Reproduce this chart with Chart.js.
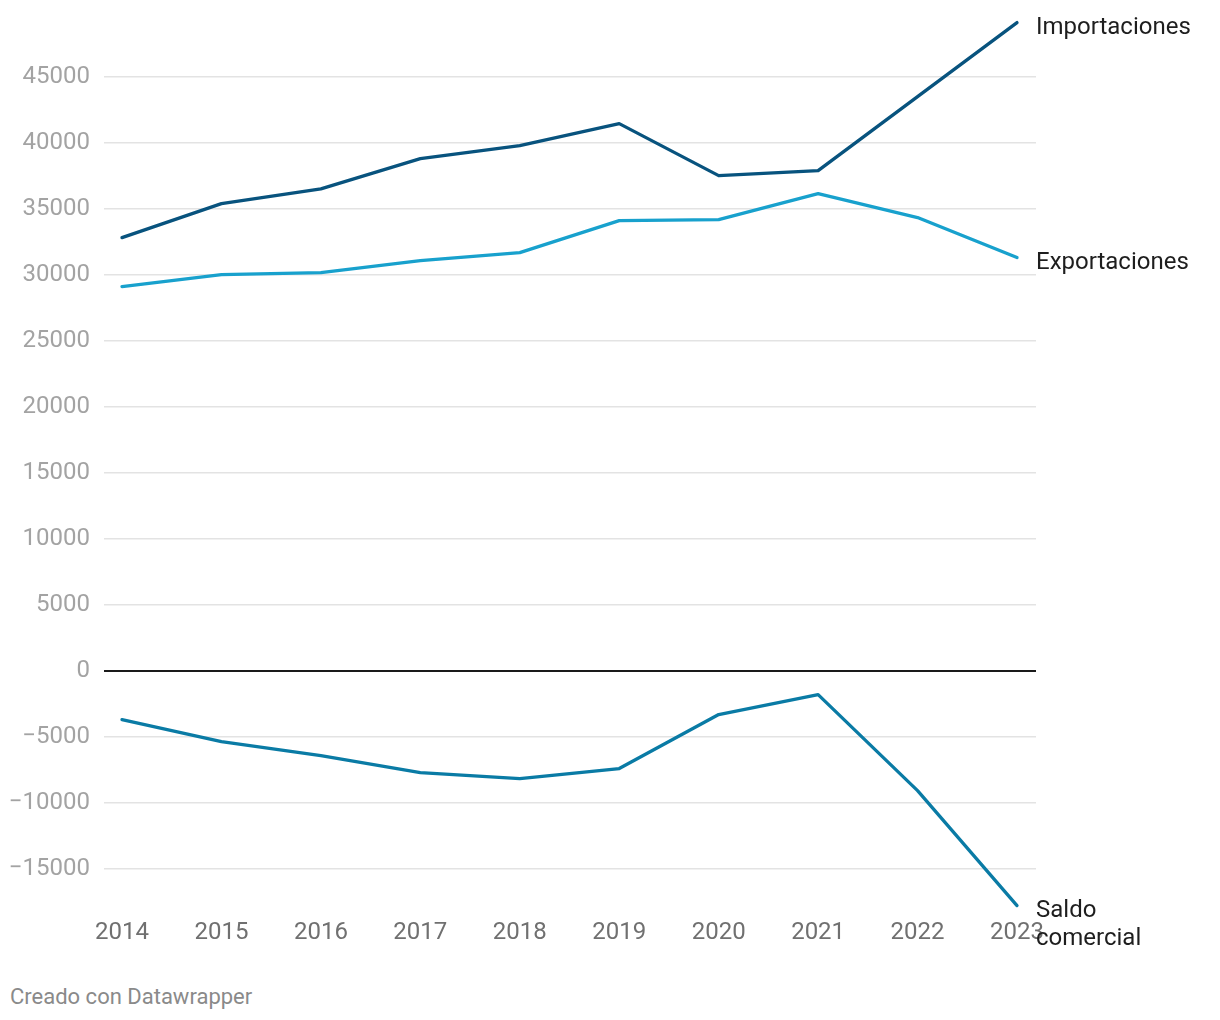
<!DOCTYPE html>
<html>
<head>
<meta charset="utf-8">
<script src="https://cdn.jsdelivr.net/npm/chart.js@4"></script>
<style>
  html, body { margin: 0; padding: 0; background: #fff; }
  #wrap { position: relative; width: 1220px; height: 1020px; }
  #c { position: absolute; left: 0; top: 0; }
  #footer { position: absolute; left: 10px; top: 984px; font: 22px Roboto, sans-serif; color: #8a8a8a; line-height: 26px; }
</style>
</head>
<body>
<div id="wrap">
  <canvas id="c" width="1220" height="960"></canvas>
  <div id="footer">Creado con Datawrapper</div>
</div>
<script>
const years = [2014, 2015, 2016, 2017, 2018, 2019, 2020, 2021, 2022, 2023];
const importaciones = [32800, 35380, 36500, 38780, 39770, 41440, 37500, 37880, 43480, 49090];
const exportaciones = [29090, 30000, 30150, 31060, 31670, 34090, 34170, 36140, 34320, 31290];
const saldoComercial = [-3710, -5380, -6440, -7730, -8180, -7420, -3330, -1820, -9090, -17800];
const yTicks = [-15000, -10000, -5000, 0, 5000, 10000, 15000, 20000, 25000, 30000, 35000, 40000, 45000];
const seriesNames = ["Importaciones", "Exportaciones", "Saldo comercial"];
const endLabels = [["Importaciones"], ["Exportaciones"], ["Saldo", "comercial"]];

const colors = ["#08537e", "#18a1cd", "#0a7ba5"];
const toPts = arr => arr.map((v, i) => ({ x: years[i], y: v }));

const endLabelPlugin = {
  id: 'endLabels',
  afterDatasetsDraw(chart) {
    const ctx = chart.ctx;
    ctx.save();
    ctx.font = '24px Roboto, sans-serif';
    ctx.fillStyle = '#1e1e1e';
    ctx.textAlign = 'left';
    ctx.textBaseline = 'middle';
    chart.data.datasets.forEach((ds, i) => {
      const meta = chart.getDatasetMeta(i);
      const pt = meta.data[meta.data.length - 1];
      const lines = endLabels[i];
      lines.forEach((t, j) => {
        ctx.fillText(t, pt.x + 19, pt.y + 5 + j * 28);
      });
    });
    ctx.restore();
  }
};

new Chart(document.getElementById('c'), {
  type: 'line',
  data: {
    datasets: [
      { label: seriesNames[0], data: toPts(importaciones), borderColor: colors[0] },
      { label: seriesNames[1], data: toPts(exportaciones), borderColor: colors[1] },
      { label: seriesNames[2], data: toPts(saldoComercial), borderColor: colors[2] }
    ]
  },
  options: {
    responsive: false,
    devicePixelRatio: 1,
    animation: false,
    layout: { padding: { left: 0, right: 184, top: 17.2, bottom: 0 } },
    elements: {
      line: { borderWidth: 3.3, tension: 0, borderCapStyle: 'round', borderJoinStyle: 'round', fill: false },
      point: { radius: 0, hoverRadius: 0 }
    },
    plugins: { legend: { display: false }, tooltip: { enabled: false } },
    scales: {
      x: {
        type: 'linear',
        min: 2013.819,
        max: 2023.191,
        afterBuildTicks: s => { s.ticks = years.map(v => ({ value: v })); },
        afterFit: s => { s.height = 51.8; },
        grid: { display: false, drawTicks: false },
        border: { display: false },
        ticks: {
          padding: 10,
          color: '#707070',
          font: { family: 'Roboto', size: 24 },
          maxRotation: 0,
          autoSkip: false,
          callback: v => String(v)
        }
      },
      y: {
        min: -18000,
        max: 49500,
        afterBuildTicks: s => { s.ticks = yTicks.map(v => ({ value: v })); },
        afterFit: s => { s.width = 104; },
        grid: {
          drawTicks: true,
          tickLength: 14,
          tickColor: 'rgba(0,0,0,0)',
          color: c => c.tick && c.tick.value === 0 ? '#1a1a1a' : '#e3e3e3',
          lineWidth: c => c.tick && c.tick.value === 0 ? 2 : 1.5
        },
        border: { display: false },
        ticks: {
          padding: 0,
          color: '#a3a3a3',
          font: { family: 'Roboto', size: 24 },
          callback: v => v < 0 ? '\u2212' + Math.abs(v) : String(v)
        }
      }
    }
  },
  plugins: [endLabelPlugin]
});
</script>
</body>
</html>
